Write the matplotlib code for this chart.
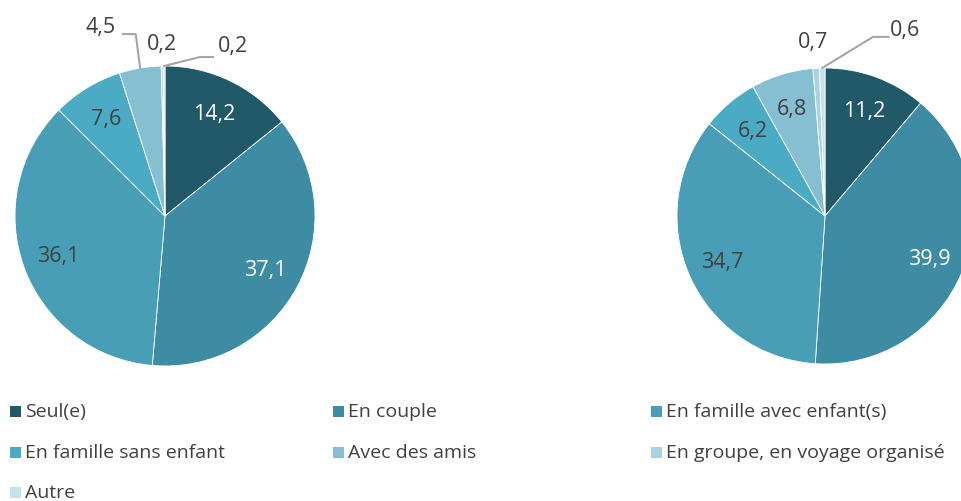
import numpy as np
import matplotlib
matplotlib.use("Agg")
from matplotlib import pyplot as plt
from matplotlib.patches import Rectangle

plt.rcParams['font.family'] = ['Open Sans', 'DejaVu Sans']

# donnees
categories = ["Seul(e)", "En couple", "En famille avec enfant(s)",
              "En famille sans enfant", "Avec des amis",
              "En groupe, en voyage organisé", "Autre"]
gauche = [14.2, 37.1, 36.1, 7.6, 4.5, 0.2, 0.2]
droite = [11.2, 39.9, 34.7, 6.2, 6.8, 0.7, 0.6]

couleurs = ["#215968", "#3d8ca3", "#479eb6", "#4babc4",
            "#85bfd1", "#a8d4e1", "#c7e2ea"]
texte_blanc = [True, True, False, False, False, False, False]
gris = "#404040"

W, H = 962, 502
fig = plt.figure(figsize=(W / 100, H / 100), dpi=100)


def fmt(v):
    return ("%.1f" % v).replace(".", ",")


def camembert(cx, cy, r, valeurs, externes):
    # cx, cy, r en pixels (origine en haut a gauche)
    ax = fig.add_axes([(cx - r) / W, (H - cy - r) / H, 2 * r / W, 2 * r / H])
    wedges, _ = ax.pie(valeurs, colors=couleurs, startangle=90, counterclock=False,
                       radius=1, wedgeprops=dict(edgecolor="white", linewidth=0.6))
    ax.set_xlim(-1, 1)
    ax.set_ylim(-1, 1)
    ax.set_aspect("equal")
    ax.axis("off")
    for i, w in enumerate(wedges):
        ang = np.radians((w.theta1 + w.theta2) / 2)
        if i in externes:
            tx, ty, ligne = externes[i]
            ax.text(tx, ty, fmt(valeurs[i]), ha="center", va="center",
                    fontsize=15.5, color=gris, clip_on=False)
            if ligne is not None:
                xs = [np.cos(ang)] + [p[0] for p in ligne]
                ys = [np.sin(ang)] + [p[1] for p in ligne]
                ax.plot(xs, ys, color="#a6a6a6", lw=1.5, clip_on=False)
        else:
            ax.text(0.76 * np.cos(ang), 0.76 * np.sin(ang), fmt(valeurs[i]),
                    ha="center", va="center", fontsize=15.5,
                    color="white" if texte_blanc[i] else gris)
    return ax


camembert(165, 217, 150, gauche, {
    4: (-0.43, 1.26, [(-0.195, 1.213), (-0.28, 1.213)]),
    5: (-0.02, 1.15, None),
    6: (0.45, 1.135, [(0.233, 1.06), (0.32, 1.06)]),
})
camembert(825, 217, 148, droite, {
    5: (-0.08, 1.18, None),
    6: (0.54, 1.26, [(0.324, 1.21), (0.43, 1.21)]),
})

# legende manuelle (ordre par lignes)
col_x = [10, 333, 651]
row_y = [412, 453, 493]
for i, nom in enumerate(categories):
    x = col_x[i % 3]
    y = row_y[i // 3]
    fig.add_artist(Rectangle((x / W, (H - y - 5.5) / H), 11 / W, 11 / H,
                             transform=fig.transFigure, facecolor=couleurs[i],
                             edgecolor="none"))
    fig.text((x + 15) / W, (H - y) / H, nom, ha="left", va="center",
             fontsize=14, color=gris)

fig.savefig("out.png", dpi=100)
